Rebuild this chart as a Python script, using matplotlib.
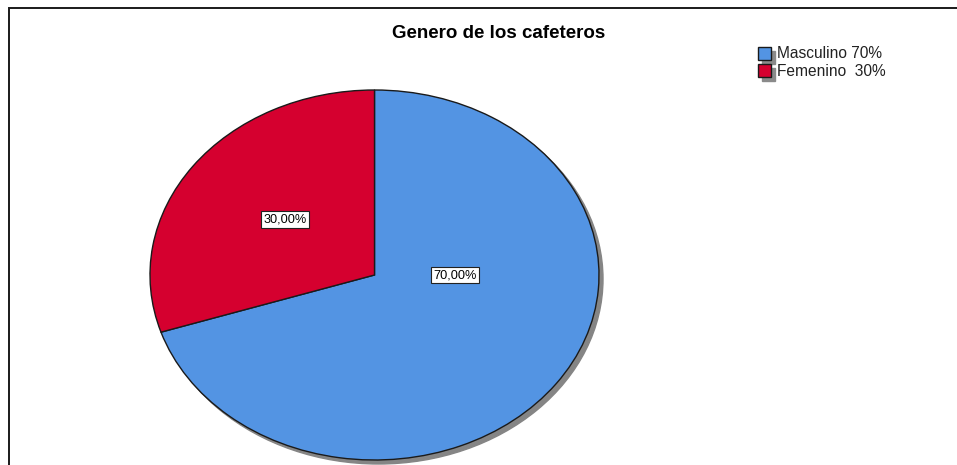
import matplotlib
matplotlib.use("Agg")
import matplotlib.pyplot as plt
from matplotlib.patches import Circle, Rectangle

plt.rcParams["font.family"] = ["Liberation Sans", "DejaVu Sans"]

# data
categories = ["Masculino", "Femenino"]
values = [70, 30]
legend_labels = ["Masculino 70%", "Femenino  30%"]
colors = ["#5394E3", "#D5002F"]

W, H = 957, 465
fig = plt.figure(figsize=(W / 100, H / 100), dpi=100)

# background axes in pixel coordinates: frame, title, legend
bg = fig.add_axes([0, 0, 1, 1])
bg.set_xlim(0, W)
bg.set_ylim(H, 0)
bg.axis("off")
bg.plot([9, 9, W], [H, 8, 8], color="#1a1a1a", lw=1.4, solid_joinstyle="miter")
bg.text(499, 33, "Genero de los cafeteros", ha="center", va="center",
        fontsize=13.5, fontweight="bold")

for i, (lab, col) in enumerate(zip(legend_labels, colors)):
    y0 = 47 + i * 17
    bg.add_patch(Rectangle((762, y0 + 4), 13, 13, color="#8a8a8a", zorder=1))
    bg.add_patch(Rectangle((758, y0), 13, 13, facecolor=col, edgecolor="#1a1a1a",
                           lw=1.0, zorder=2))
    bg.text(777, y0 + 7, lab, ha="left", va="center", fontsize=11.2, color="#222222")

# pie axes: unit circle stretched to the ellipse
ax = fig.add_axes([150 / W, (H - 460) / H, 449 / W, 370 / H])
ax.add_patch(Circle((4 / 224.5, -4 / 185), 1.0, color="#858585", zorder=0))
wedges, _ = ax.pie(values, colors=colors, startangle=90, counterclock=False,
                   wedgeprops=dict(edgecolor="#1a1a1a", linewidth=1.0))
ax.set_aspect("auto")
ax.set_xlim(-1.03, 1.03)
ax.set_ylim(-1.03, 1.03)
ax.axis("off")
ax.set_position([(150 - 0.03 * 224.5) / W, (H - 460 - 0.03 * 185) / H,
                 2.06 * 224.5 / W, 2.06 * 185 / H])

# percentage labels
label_pos = [(0.36, 0.0), (-0.40, 0.30)]
for v, (x, y) in zip(values, label_pos):
    ax.text(x, y, f"{v:.2f}%".replace(".", ","), ha="center", va="center",
            fontsize=9.2, zorder=5,
            bbox=dict(boxstyle="square,pad=0.18", facecolor="white",
                      edgecolor="#222222", linewidth=0.8))

fig.savefig("out.png", dpi=100)
